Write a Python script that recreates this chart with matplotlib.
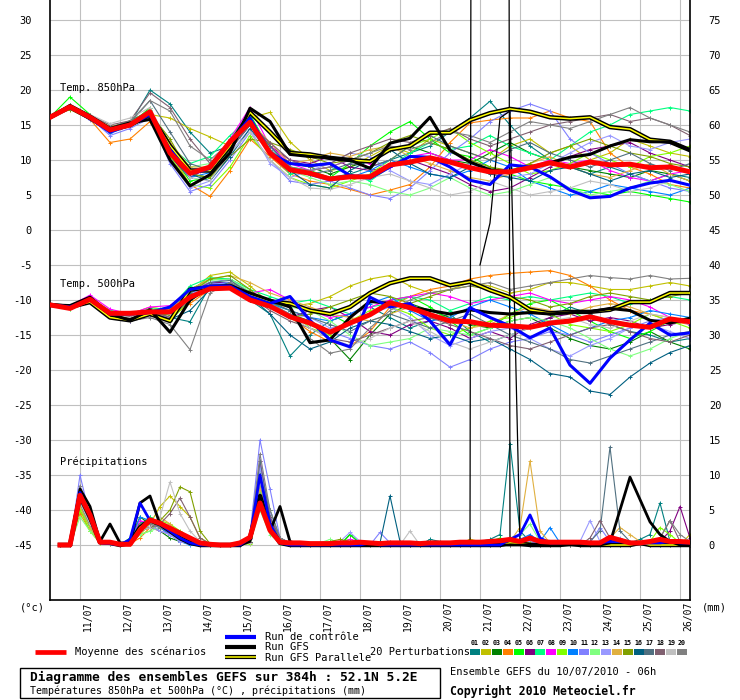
import numpy as np
import matplotlib
matplotlib.use("Agg")
import matplotlib.pyplot as plt
from matplotlib.lines import Line2D
from matplotlib.patches import Rectangle
import matplotlib.transforms as mtrans

# ---------------- DATA ----------------
day_labels = ["11/07", "12/07", "13/07", "14/07", "15/07", "16/07", "17/07", "18/07",
              "19/07", "20/07", "21/07", "22/07", "23/07", "24/07", "25/07", "26/07"]
first_day_hour = 18          # 11/07 00h = run start (10/07 06h) + 18h
temp_step_h = 12
precip_step_h = 6
precip_offset = -45          # precipitation 0 mm sits on the -45 line

pert_colors = ["#008080", "#c0c000", "#008000", "#ff8000", "#00ff00", "#800080", "#00ff80",
               "#ff00ff", "#80ff00", "#0080ff", "#8080ff", "#80ff80", "#9999ff", "#e0b040",
               "#80a000", "#006080", "#507080", "#806070", "#c0c0c0", "#808080"]

# Temp 850 hPa (every 12 h)
mean850 = [16.1, 17.6, 16.1, 14.3, 15.0, 16.9, 11.0, 8.1, 9.0, 12.6, 15.4,
           11.0, 8.6, 8.1, 7.3, 7.6, 7.6, 9.3, 9.7, 10.3, 9.7, 8.9,
           8.3, 8.3, 8.9, 9.6, 9.0, 9.7, 9.3, 9.4, 8.9, 9.0, 8.3]
ctrl850 = [16.1, 17.5, 16.0, 14.0, 15.0, 16.5, 11.5, 8.0, 8.8, 12.5, 16.0,
           11.0, 9.5, 9.2, 9.5, 7.8, 7.4, 9.0, 10.5, 10.4, 9.0, 7.1,
           6.5, 9.3, 9.0, 7.6, 5.7, 4.6, 4.8, 6.0, 6.7, 7.1, 6.4]
gfs850 = [16.1, 17.8, 16.3, 14.5, 15.3, 15.8, 10.0, 6.3, 7.9, 11.0, 17.4,
          15.5, 10.8, 10.5, 10.3, 10.0, 8.8, 12.4, 13.1, 16.1, 11.4, 9.7,
          8.6, 8.3, 9.0, 9.6, 10.4, 10.8, 12.0, 12.9, 12.6, 12.6, 11.4]
par850 = [16.1, 17.6, 16.0, 14.3, 15.0, 16.5, 12.0, 8.5, 8.5, 12.0, 16.8,
          14.0, 11.0, 10.8, 10.3, 10.0, 9.8, 11.5, 12.0, 13.9, 13.9, 15.7,
          16.7, 17.3, 16.9, 16.1, 15.9, 16.1, 14.7, 14.4, 12.9, 12.6, 11.4]

p01_850 = [16.1, 17.6, 16.0, 14.2, 15.2, 20.0, 18.0, 14.0, 11.0, 12.0, 15.5,
           12.0, 9.0, 8.0, 7.5, 8.0, 9.0, 10.0, 11.0, 12.0, 14.0, 16.0,
           18.4, 15.0, 12.0, 10.0, 9.0, 8.0, 9.0, 8.0, 7.0, 8.0, 7.5]
p02_850 = [16.1, 17.4, 16.3, 14.8, 15.3, 16.5, 16.0, 14.5, 13.3, 12.0, 16.0,
           16.8, 12.6, 10.0, 8.5, 9.0, 10.5, 12.0, 11.0, 13.0, 12.0, 11.0,
           10.0, 12.0, 13.0, 11.0, 12.0, 10.0, 11.0, 13.0, 12.0, 11.0, 10.5]
p03_850 = [16.1, 17.8, 16.4, 14.6, 15.6, 17.0, 12.5, 8.0, 7.5, 11.5, 15.0,
           11.0, 9.5, 9.0, 8.0, 9.0, 10.0, 11.5, 12.0, 11.0, 10.0, 9.5,
           11.0, 12.5, 11.0, 10.0, 9.0, 8.5, 8.0, 7.5, 8.5, 8.0, 7.0]
p04_850 = [16.1, 17.3, 15.8, 12.5, 13.0, 15.5, 11.0, 6.5, 4.8, 8.5, 13.0,
           10.5, 8.0, 7.0, 6.5, 5.8, 5.0, 5.7, 6.5, 9.0, 12.5, 15.3,
           15.7, 16.0, 16.0, 17.0, 16.0, 15.5, 11.0, 9.0, 8.0, 6.5, 6.0]
p05_850 = [16.1, 19.0, 16.5, 14.0, 15.0, 17.5, 11.0, 7.0, 7.5, 13.0, 16.5,
           11.5, 9.0, 8.5, 7.5, 9.5, 12.0, 14.0, 15.5, 13.0, 11.0, 10.5,
           9.0, 8.0, 7.0, 6.5, 6.0, 5.5, 5.0, 5.5, 5.0, 4.5, 4.0]
p06_850 = [16.1, 17.5, 16.0, 14.3, 15.2, 16.8, 10.5, 7.5, 9.0, 12.5, 15.5,
           12.0, 10.0, 9.5, 10.5, 9.0, 8.5, 9.0, 10.0, 9.0, 8.0, 6.5,
           5.5, 6.0, 7.5, 9.0, 10.5, 11.5, 12.0, 12.5, 11.0, 10.0, 9.0]
p07_850 = [16.1, 17.6, 16.2, 14.4, 15.4, 17.2, 12.0, 9.5, 10.5, 13.5, 16.0,
           11.0, 8.0, 8.5, 9.0, 8.0, 7.0, 9.0, 11.0, 12.5, 11.5, 12.0,
           13.5, 12.0, 11.0, 10.0, 12.0, 14.0, 15.0, 16.5, 17.0, 17.5, 17.0]
p08_850 = [16.1, 17.7, 16.1, 14.2, 15.1, 16.6, 11.5, 8.5, 8.8, 13.0, 17.5,
           12.0, 9.5, 8.5, 9.0, 10.0, 9.5, 9.0, 10.5, 11.0, 10.0, 10.0,
           11.5, 10.5, 9.0, 10.0, 9.5, 10.0, 8.5, 7.5, 7.0, 8.0, 8.5]
p09_850 = [16.1, 17.5, 16.0, 14.0, 14.8, 16.0, 10.5, 6.5, 6.0, 9.0, 13.5,
           10.0, 7.5, 6.5, 6.0, 7.0, 8.0, 10.0, 12.0, 13.0, 14.5, 12.5,
           11.0, 9.5, 8.0, 8.5, 9.5, 11.0, 10.0, 9.0, 10.5, 11.0, 12.0]
p10_850 = [16.1, 17.4, 15.9, 13.8, 14.9, 16.3, 11.0, 7.5, 8.2, 12.0, 15.0,
           11.5, 9.0, 7.8, 7.0, 7.5, 8.5, 10.0, 9.0, 8.0, 7.5, 8.5,
           10.0, 9.0, 7.0, 6.0, 5.0, 5.5, 6.5, 6.0, 5.5, 5.0, 6.0]
p11_850 = [16.1, 17.6, 16.0, 13.5, 14.5, 16.0, 9.5, 5.5, 6.5, 10.0, 14.0,
           10.0, 7.0, 6.5, 7.0, 6.0, 5.0, 4.5, 6.0, 8.5, 11.0, 13.0,
           15.5, 17.0, 18.0, 17.0, 13.0, 11.0, 9.5, 8.0, 7.0, 6.0, 5.5]
p12_850 = [16.1, 17.5, 16.2, 14.5, 15.5, 16.5, 12.0, 9.0, 9.5, 12.5, 15.5,
           11.0, 8.5, 7.5, 6.5, 7.0, 6.5, 5.5, 5.0, 6.0, 7.5, 6.0,
           5.0, 5.5, 6.5, 7.5, 6.0, 5.0, 5.5, 6.0, 7.0, 6.5, 5.5]
p13_850 = [16.1, 17.3, 15.7, 14.0, 15.0, 16.2, 10.0, 6.0, 7.0, 11.0, 14.5,
           9.5, 7.5, 8.5, 9.5, 11.0, 10.5, 8.5, 7.0, 6.5, 8.0, 9.5,
           8.5, 7.5, 8.0, 9.5, 11.0, 12.5, 13.5, 12.0, 11.5, 12.5, 13.0]
p14_850 = [16.1, 17.6, 16.1, 14.6, 15.4, 16.4, 12.5, 9.0, 9.0, 12.0, 15.5,
           12.5, 9.5, 10.0, 11.0, 10.5, 11.5, 12.0, 10.5, 9.5, 8.5, 7.5,
           7.0, 8.0, 9.5, 10.5, 9.0, 8.0, 7.5, 8.5, 9.5, 8.0, 7.0]
p15_850 = [16.1, 17.2, 15.8, 14.2, 15.2, 16.7, 13.0, 8.0, 7.5, 10.5, 13.0,
           12.5, 11.5, 10.5, 9.5, 10.0, 11.0, 12.5, 13.5, 12.5, 11.5, 10.0,
           9.0, 8.5, 9.5, 11.0, 12.0, 13.0, 12.0, 11.0, 10.5, 9.5, 9.0]
p16_850 = [16.1, 17.5, 16.0, 14.1, 15.0, 16.9, 12.0, 8.0, 7.0, 10.5, 14.5,
           11.0, 8.5, 6.5, 6.0, 8.5, 10.0, 11.5, 9.5, 8.0, 7.5, 9.0,
           8.0, 7.5, 7.0, 8.5, 9.0, 8.0, 7.0, 8.0, 8.5, 7.5, 8.0]
p17_850 = [16.1, 17.8, 16.3, 14.4, 15.3, 18.5, 14.0, 9.5, 8.5, 11.5, 15.0,
           12.0, 9.0, 8.0, 8.5, 9.5, 9.0, 10.0, 12.0, 13.5, 12.0, 11.0,
           10.0, 11.5, 12.5, 11.0, 10.0, 9.0, 10.0, 11.0, 9.5, 8.5, 9.5]
p18_850 = [16.1, 17.4, 16.4, 15.0, 15.6, 19.6, 17.5, 13.0, 9.5, 11.5, 15.0,
           12.5, 10.0, 9.0, 9.5, 11.0, 12.0, 13.0, 12.5, 13.5, 14.5, 13.0,
           12.0, 13.0, 14.0, 15.0, 15.5, 16.0, 16.5, 15.5, 16.0, 15.0, 13.5]
p19_850 = [16.1, 17.7, 16.5, 15.2, 16.0, 17.5, 12.0, 7.5, 7.0, 11.0, 14.0,
           10.0, 7.5, 6.0, 5.8, 6.5, 7.5, 8.0, 7.0, 6.0, 5.0, 5.5,
           7.0, 6.0, 5.0, 5.5, 6.0, 7.0, 6.5, 5.5, 6.0, 7.0, 6.5]
p20_850 = [16.1, 17.5, 16.2, 14.7, 15.5, 18.5, 17.0, 12.0, 10.0, 12.5, 15.5,
           11.5, 9.0, 8.5, 9.0, 10.0, 11.0, 12.0, 11.5, 12.5, 14.0, 13.5,
           12.5, 14.0, 15.5, 15.0, 14.5, 15.5, 16.5, 17.5, 16.0, 15.0, 14.0]

# Temp 500 hPa (every 12 h)
mean500 = [-10.7, -11.2, -9.9, -11.9, -11.9, -11.7, -11.7, -9.6, -8.4, -8.3, -10.0,
           -10.9, -12.4, -13.3, -14.6, -13.3, -12.1, -10.4, -11.1, -12.1, -13.0, -13.1,
           -13.6, -13.7, -13.9, -13.3, -13.0, -12.4, -13.1, -13.6, -13.9, -12.7, -13.1]
ctrl500 = [-10.7, -11.0, -10.0, -12.0, -12.0, -11.8, -11.0, -8.5, -8.0, -8.0, -9.5,
           -10.5, -9.5, -12.9, -15.7, -16.7, -9.6, -11.0, -10.5, -13.0, -16.4, -11.1,
           -12.5, -13.7, -15.4, -14.0, -19.3, -21.9, -18.3, -15.7, -13.3, -15.0, -14.7]
gfs500 = [-10.7, -10.8, -9.6, -12.0, -12.9, -11.4, -14.6, -10.0, -8.0, -8.0, -9.0,
          -10.0, -11.0, -16.1, -15.7, -12.5, -10.2, -10.5, -11.0, -11.5, -12.0, -11.4,
          -11.8, -12.0, -11.8, -12.0, -11.8, -11.7, -11.2, -11.5, -12.9, -13.3, -12.6]
par500 = [-10.7, -11.0, -10.3, -12.5, -12.9, -12.0, -13.0, -8.5, -8.2, -8.0, -9.3,
          -10.2, -10.5, -11.5, -12.0, -11.0, -9.0, -7.6, -6.9, -6.9, -7.9, -7.4,
          -8.6, -9.6, -11.4, -11.9, -11.7, -11.7, -11.4, -10.3, -10.3, -9.0, -9.0]

p01_500 = [-10.7, -11.0, -9.8, -12.0, -12.6, -11.5, -12.5, -13.1, -8.0, -7.5, -10.0,
           -12.0, -18.0, -15.0, -13.0, -12.0, -11.0, -12.5, -14.0, -13.0, -12.0, -14.5,
           -16.0, -15.0, -14.0, -12.5, -11.0, -12.0, -13.5, -14.5, -15.0, -16.0, -15.5]
p02_500 = [-10.7, -11.2, -10.0, -11.5, -12.0, -11.0, -11.5, -9.0, -6.5, -6.0, -8.0,
           -10.5, -11.0, -10.5, -9.5, -8.0, -7.0, -6.5, -8.0, -9.0, -8.5, -7.5,
           -8.0, -9.0, -8.5, -7.5, -7.5, -8.0, -8.5, -8.5, -8.0, -7.5, -8.0]
p03_500 = [-10.7, -11.0, -10.2, -11.8, -12.4, -11.2, -12.8, -9.5, -7.5, -8.0, -10.0,
           -11.0, -12.0, -13.0, -15.5, -18.5, -15.0, -12.0, -10.5, -11.5, -12.5, -13.5,
           -14.0, -13.0, -12.5, -14.0, -15.5, -16.5, -17.0, -16.0, -14.5, -16.0, -17.0]
p04_500 = [-10.7, -11.1, -10.1, -12.0, -12.5, -11.8, -12.5, -10.5, -8.5, -7.5, -9.0,
           -10.0, -12.5, -14.5, -16.0, -16.6, -14.5, -11.0, -9.5, -8.5, -8.0, -7.0,
           -6.5, -6.2, -6.0, -5.8, -6.5, -8.0, -10.0, -11.5, -12.0, -13.0, -13.5]
p05_500 = [-10.7, -11.3, -10.0, -11.9, -12.3, -11.5, -11.0, -8.5, -7.0, -7.0, -9.5,
           -11.0, -10.5, -11.5, -12.0, -13.5, -12.0, -10.0, -9.5, -11.0, -13.0, -15.0,
           -14.0, -12.0, -10.5, -10.0, -11.5, -13.0, -14.5, -15.5, -14.5, -13.0, -12.5]
p06_500 = [-10.7, -11.0, -9.9, -12.1, -13.0, -12.0, -12.0, -9.0, -7.5, -7.5, -9.5,
           -11.0, -12.5, -11.5, -11.0, -12.5, -14.5, -15.0, -13.5, -13.0, -14.0, -15.5,
           -14.5, -15.5, -13.5, -12.5, -12.0, -13.0, -12.5, -13.0, -14.0, -13.5, -13.0]
p07_500 = [-10.7, -10.9, -9.7, -11.5, -12.0, -11.3, -11.2, -8.0, -6.8, -7.0, -8.5,
           -9.5, -10.5, -10.0, -11.0, -12.0, -11.0, -10.5, -9.5, -10.0, -11.5, -10.5,
           -9.5, -10.0, -9.5, -10.0, -9.5, -9.0, -9.5, -10.5, -10.0, -9.5, -10.0]
p08_500 = [-10.7, -10.8, -9.3, -11.3, -12.0, -11.0, -10.8, -8.5, -7.5, -8.0, -9.0,
           -8.5, -10.0, -11.5, -12.5, -12.0, -11.0, -10.0, -9.5, -9.0, -9.5, -10.5,
           -10.0, -9.5, -9.0, -10.0, -10.5, -10.0, -9.5, -10.0, -11.0, -12.5, -13.5]
p09_500 = [-10.7, -11.1, -10.3, -11.8, -12.2, -11.6, -13.0, -10.0, -8.5, -8.0, -9.5,
           -10.5, -11.5, -14.0, -15.0, -13.0, -11.5, -11.0, -12.0, -14.0, -15.0, -14.0,
           -13.0, -12.5, -11.5, -12.0, -13.5, -14.0, -14.5, -13.5, -12.0, -13.0, -14.0]
p10_500 = [-10.7, -11.0, -10.0, -12.0, -12.7, -11.8, -12.0, -9.0, -7.8, -7.5, -9.0,
           -10.5, -11.5, -12.5, -13.0, -12.0, -10.5, -9.5, -11.5, -13.0, -12.5, -11.0,
           -10.0, -11.0, -12.0, -13.5, -15.0, -14.0, -13.0, -12.5, -11.5, -12.0, -12.5]
p11_500 = [-10.7, -11.2, -10.2, -12.2, -13.0, -12.0, -12.5, -9.5, -7.5, -7.0, -9.0,
           -10.5, -12.0, -13.5, -14.5, -15.5, -16.5, -17.0, -16.0, -17.5, -19.6, -18.5,
           -17.0, -16.0, -15.5, -14.5, -15.0, -16.0, -15.0, -14.0, -13.0, -12.5, -13.5]
p12_500 = [-10.7, -11.1, -10.1, -12.1, -12.5, -11.6, -11.5, -8.8, -7.2, -7.0, -8.8,
           -10.0, -11.0, -11.5, -13.0, -15.0, -16.5, -16.0, -15.5, -14.0, -14.5, -15.0,
           -14.0, -13.0, -12.5, -13.0, -14.0, -15.5, -17.0, -18.0, -17.0, -15.5, -14.5]
p13_500 = [-10.7, -11.0, -10.0, -11.7, -12.3, -11.4, -11.8, -9.2, -7.8, -7.5, -9.3,
           -10.8, -12.0, -12.5, -14.0, -13.5, -12.0, -11.0, -12.5, -15.0, -16.5, -15.5,
           -14.5, -14.0, -15.5, -17.0, -18.0, -16.5, -15.5, -14.0, -13.5, -14.5, -15.5]
p14_500 = [-10.7, -11.1, -10.0, -11.9, -12.4, -11.5, -11.4, -8.5, -7.0, -6.5, -7.5,
           -9.0, -10.0, -11.0, -12.0, -12.5, -13.0, -12.0, -11.0, -12.0, -13.0, -14.0,
           -13.5, -12.0, -11.0, -11.5, -12.0, -11.0, -10.5, -11.0, -12.0, -12.5, -13.0]
p15_500 = [-10.7, -11.2, -10.1, -12.0, -12.6, -11.7, -12.2, -9.0, -7.0, -6.5, -8.5,
           -11.0, -12.5, -12.0, -11.0, -10.0, -9.0, -9.5, -10.5, -9.5, -8.5, -8.0,
           -8.5, -9.5, -10.0, -11.0, -10.5, -9.5, -9.0, -9.5, -10.0, -9.5, -9.0]
p16_500 = [-10.7, -11.0, -10.0, -12.1, -12.8, -11.9, -12.8, -11.5, -8.5, -7.5, -9.5,
           -12.0, -15.0, -17.0, -16.0, -14.0, -13.0, -13.5, -14.5, -15.5, -15.0, -16.0,
           -15.5, -17.0, -18.5, -20.5, -21.0, -23.0, -23.5, -21.0, -19.0, -17.5, -16.5]
p17_500 = [-10.7, -11.1, -10.2, -11.8, -12.5, -11.6, -11.9, -9.0, -7.5, -7.2, -9.0,
           -10.2, -11.5, -12.5, -13.5, -14.5, -13.0, -12.0, -13.0, -14.0, -13.0, -12.0,
           -13.5, -15.0, -16.0, -17.0, -18.5, -19.0, -18.0, -17.0, -16.0, -15.0, -14.5]
p18_500 = [-10.7, -11.0, -10.0, -11.9, -12.4, -11.5, -12.5, -10.0, -8.0, -7.8, -9.5,
           -11.5, -13.0, -14.0, -15.5, -16.0, -15.0, -14.0, -13.0, -12.5, -13.5, -14.5,
           -15.5, -16.5, -17.0, -16.0, -15.0, -14.0, -13.5, -14.5, -15.5, -16.0, -15.0]
p19_500 = [-10.7, -11.1, -10.1, -12.0, -12.5, -11.6, -12.0, -9.5, -7.8, -7.8, -9.5,
           -11.0, -12.5, -14.0, -15.5, -16.5, -15.5, -14.0, -13.0, -14.5, -16.0, -17.0,
           -16.0, -15.0, -14.0, -13.0, -12.5, -13.5, -14.0, -13.0, -12.0, -12.5, -13.0]
p20_500 = [-10.7, -11.2, -10.3, -12.3, -13.0, -12.5, -13.5, -17.1, -9.0, -7.5, -9.0,
           -10.5, -12.0, -15.5, -17.6, -17.0, -14.0, -11.5, -10.0, -9.0, -8.5, -8.0,
           -7.5, -8.5, -8.0, -7.5, -7.0, -6.5, -6.8, -7.0, -6.5, -7.0, -6.9]

# Precipitation (mm per 6 h, from +6 h)
mean_pr = [0, 0, 7.1, 4.3, 0.4, 0.4, 0.1, 0.1,
           2.1, 3.6, 3.1, 2.4, 1.7, 1.0, 0.3, 0.1,
           0, 0, 0.3, 1.1, 6.0, 2.1, 0.4, 0.3,
           0.3, 0.2, 0.2, 0.2, 0.3, 0.3, 0.4, 0.3,
           0.2, 0.3, 0.3, 0.3, 0.2, 0.3, 0.3, 0.3,
           0.4, 0.4, 0.4, 0.5, 0.6, 0.8, 0.5, 1.0,
           0.5, 0.4, 0.4, 0.4, 0.4, 0.3, 0.3, 1.1,
           0.7, 0.3, 0.3, 0.5, 0.8, 0.5, 0.5, 0.4]
ctrl_pr = [0, 0, 7.5, 4, 0.3, 0.2, 0, 0.8,
           6, 3.5, 3, 2, 1, 0.3, 0, 0,
           0, 0, 0, 1, 10, 3, 0.3, 0,
           0, 0, 0, 0, 0, 0, 0, 0.3,
           0, 0, 0, 0, 0, 0, 0, 0,
           0, 0, 0, 0, 0, 0.8, 1.5, 4.3,
           1.0, 0.3, 0.3, 0.5, 0.5, 0.3, 0.3, 0.5,
           0.5, 0.3, 0.2, 0.3, 0.3, 0.5, 0.3, 0.3]
gfs_pr = [0, 0, 8, 5.5, 0.5, 3, 0.3, 0.3,
          6, 7, 3, 2, 1, 0.3, 0, 0,
          0, 0, 0, 0.5, 7, 2, 5.5, 0.5,
          0, 0, 0, 0, 0, 0, 0, 0,
          0, 0, 0, 0, 0, 0, 0, 0,
          0, 0, 0, 0, 0, 0, 0, 0,
          0, 0, 0, 0, 0, 0, 0, 0.3,
          5, 9.7, 6.5, 3.3, 1.5, 0.5, 0, 0]
par_pr = [0, 0, 7, 4, 0.4, 0.3, 0, 0.3,
          2.5, 3.5, 3, 2, 1, 0.3, 0, 0,
          0, 0, 0, 1, 7, 2.5, 0.3, 0,
          0, 0, 0, 0, 0, 0, 0, 0,
          0, 0, 0, 0, 0, 0, 0, 0,
          0, 0, 0, 0, 0, 0.3, 0.2, 0,
          0, 0, 0, 0.2, 0, 0, 0, 0,
          0, 0, 0.3, 0, 0, 0, 0, 0]
# operational GFS extreme precipitation burst (hours, mm)
spike_hours = [252, 258, 264, 270, 276]
spike_pr = [0, 900, 900, 900, 0]
spike2_hours = [258, 264, 270, 276, 282]
spike2_pr = [40, 46, 61, 62, 0]

p01_pr = [0, 0, 6.5, 3.5, 0.5, 0.3, 0, 0.5, 3.0, 4.0, 3.0, 2.0, 1.0, 0.5, 0.2, 0,
          0, 0, 0, 0.5, 11.0, 5.0, 1.0, 0.3, 0, 0, 0, 0, 0, 0, 0, 0,
          0.3, 0.5, 0, 0, 0, 0.8, 0.5, 0.3, 0.2, 0.3, 0.5, 0.8, 1.5, 14.5, 2.0, 0.5,
          0.3, 0.5, 0.3, 0.5, 0.2, 0.3, 0.5, 0.3, 0.2, 0.3, 0.8, 1.5, 6.0, 0.5, 0.3, 0.2]
p02_pr = [0, 0, 5, 2.5, 0.3, 0.2, 0, 0.3, 1.5, 3, 5.5, 7, 5.5, 4, 1, 0.2,
          0, 0, 0, 0.3, 8, 3, 0.5, 0.2, 0, 0, 0, 0.2, 0.5, 0.8, 0.3, 0,
          0, 0, 0, 0, 0, 0.3, 0, 0, 0.2, 0.8, 0.5, 0.2, 0, 0.3, 0.5, 0.3,
          0.2, 0, 0, 0.3, 0.2, 0, 0, 0.3, 0.5, 0.3, 0, 0.2, 0.3, 0.2, 0, 1.5]
p03_pr = [0, 0, 7, 4, 0.5, 0.3, 0, 0.8, 4, 3, 2, 1, 0.5, 0.2, 0, 0,
          0, 0, 0, 1, 9, 2.5, 0.5, 0.2, 0, 0, 0, 0, 0, 1.5, 0.2, 0,
          0, 0, 0, 0, 0, 0, 0, 0.3, 0, 0, 0, 0.3, 0.5, 0.8, 0.3, 0.2,
          0, 0.3, 0.5, 0.2, 0, 0.3, 0.2, 0, 0, 0.3, 0.2, 0, 0.3, 0.2, 0, 0]
p04_pr = [0, 0, 4.5, 2, 0.3, 0.2, 0, 0.2, 1, 2.5, 2, 1.5, 1, 0.5, 0, 0,
          0, 0, 0, 0.5, 7, 3, 0.5, 0, 0, 0, 0, 0, 0, 0, 0, 0,
          0, 0, 0, 0, 0, 0, 0, 0, 0, 0, 0, 0, 0.5, 0.3, 0.2, 0.5,
          0.3, 0.2, 0, 0.3, 0, 0, 0.2, 0.3, 0.5, 0.2, 0, 0.3, 0.5, 0.2, 0, 0]
p05_pr = [0, 0, 7.5, 4, 0.5, 0.3, 0, 1, 3, 3.5, 2.5, 1.5, 0.5, 0.2, 0, 0,
          0, 0, 0, 1, 10, 4, 0.8, 0.2, 0, 0, 0, 0, 0, 1.5, 0.3, 0,
          0, 0, 0, 0, 0, 0, 0, 0, 0, 0, 0, 0.5, 1, 0.5, 0.3, 0.2,
          0, 0, 0.2, 0.3, 0, 0, 0.2, 0, 0, 0, 0.5, 0.3, 0.2, 0.5, 0.3, 0]
p06_pr = [0, 0, 6, 3, 0.5, 0.3, 0, 0.5, 2, 2.5, 3, 2, 1, 0.3, 0, 0,
          0, 0, 0, 0.5, 9, 3.5, 0.5, 0, 0, 0, 0, 0, 0, 0, 0, 0,
          0, 0, 0, 0, 0, 0, 0, 0, 0, 0, 0, 0, 0.3, 0.2, 0.5, 0.3,
          0.2, 0, 0, 0.3, 0.5, 0.3, 0.2, 0, 0, 0.3, 0.2, 0, 0.5, 2, 5.5, 1]
p07_pr = [0, 0, 5.5, 2.5, 0.3, 0.2, 0, 0.3, 2.5, 4, 3, 2, 0.8, 0.3, 0, 0,
          0, 0, 0, 0.3, 7.5, 2.5, 0.3, 0, 0, 0, 0, 0, 0.3, 0.5, 0.2, 0,
          0, 0, 0, 0, 0, 0, 0, 0, 0, 0, 0, 0, 0.3, 0.5, 0.2, 0,
          0, 0.2, 0, 0, 0, 0, 0.3, 0.5, 0.3, 0, 0, 0.2, 0, 0, 0.2, 0]
p08_pr = [0, 0, 6, 3, 0.4, 0.2, 0, 0.5, 3.5, 3, 2.5, 1.5, 0.5, 0.2, 0, 0,
          0, 0, 0, 0.8, 12, 4, 0.5, 0, 0, 0, 0, 0, 0.3, 0.8, 0.5, 0,
          0, 0, 0, 0, 0, 0, 0, 0, 0, 0, 0, 0, 0, 0.3, 0.5, 0.3,
          0.2, 0, 0, 0, 0.2, 0, 0, 0, 0, 0, 0, 0, 0.3, 0.2, 0, 0]
p09_pr = [0, 0, 5, 2, 0.3, 0.2, 0, 0.3, 1.5, 2, 3.5, 3, 2, 1, 0.3, 0,
          0, 0, 0, 0.2, 6, 2, 0.3, 0, 0, 0, 0, 0.2, 0.3, 0.5, 0.2, 0,
          0, 0, 0, 0, 0, 0, 0, 0, 0, 0, 0, 0.2, 0.5, 0.8, 0.3, 0.2,
          0, 0, 0, 0.2, 0, 0, 0, 0, 0, 0, 0, 0.5, 2.5, 1.5, 0.3, 0]
p10_pr = [0, 0, 6, 3, 0.5, 0.3, 0, 0.5, 4, 3.5, 2.5, 1.5, 0.5, 0, 0, 0,
          0, 0, 0, 0.5, 10, 3, 0.5, 0, 0, 0, 0, 0, 0, 0.5, 0.2, 0,
          0, 0, 0, 0, 0, 0, 0, 0, 0, 0, 0, 0, 0.2, 0.5, 0.8, 1.5,
          0.5, 2.5, 0.3, 0.2, 0, 0.3, 0.5, 0.3, 0.5, 0.3, 0.2, 0.3, 0.2, 0.3, 0, 0]
p11_pr = [0, 0, 10, 4, 0.5, 0.3, 0, 0.5, 3, 2.5, 2, 1.5, 0.5, 0.2, 0, 0,
          0, 0, 0, 1.5, 15, 8, 1, 0.3, 0, 0, 0, 0, 0, 0, 0, 0,
          1.8, 0.3, 0, 0, 0, 0.3, 0.2, 0, 0, 0, 0, 0, 0, 0, 0, 0.3,
          0.2, 0, 0.3, 0.5, 0.2, 0.3, 2.5, 0.5, 0.3, 0, 0, 0, 0, 0, 0, 0]
p12_pr = [0, 0, 4, 2, 0.3, 0.2, 0, 0.3, 1.5, 2, 2.5, 2, 1.5, 1, 0.3, 0,
          0, 0, 0, 0.3, 5, 1.5, 0.3, 0, 0, 0, 0.3, 0.8, 0.3, 0, 0, 0,
          0, 0, 0, 0, 0, 0, 0, 0, 0, 0.3, 0.5, 0.3, 0.5, 1.0, 1.5, 3.0,
          0.5, 0, 0, 0, 0, 0, 0, 0, 0, 0, 0, 0, 0, 0, 0, 0]
p13_pr = [0, 0, 8, 3.5, 0.5, 0.2, 0, 0.3, 2.5, 3, 2, 1.5, 0.5, 0.2, 0, 0,
          0, 0, 0, 0.8, 11, 4.5, 0.5, 0.2, 0, 0, 0, 0, 0.5, 1.8, 0.5, 0,
          0, 0, 0, 0, 0, 0, 0, 0, 0, 0, 0, 0, 0, 0, 0.3, 0.5,
          0.3, 0, 0, 0.2, 0.5, 3.5, 0.5, 0.3, 1, 0.3, 0, 0.3, 0, 0, 0, 0]
p14_pr = [0, 0, 5.5, 2.5, 0.3, 0.2, 0, 0.3, 2, 3, 4, 3, 1.5, 0.5, 0, 0,
          0, 0, 0, 0.3, 8, 3, 0.5, 0, 0, 0, 0, 0, 0, 0, 0, 0,
          0, 0, 0, 0, 0, 0, 0, 0, 0, 0, 0, 0, 0.3, 0.5, 2.5, 12.0,
          2, 0.3, 0, 0, 0, 0, 0.5, 1.0, 2.5, 1.5, 0.5, 0, 0, 0, 0, 0]
p15_pr = [0, 0, 6, 3, 0.4, 0.2, 0, 0.4, 2, 2.5, 3.5, 5, 8.3, 7.6, 2, 0.2,
          0, 0, 0, 0.5, 9, 3, 0.5, 0.2, 0.3, 0, 0, 0.5, 0.8, 0.5, 0, 0,
          0, 0, 0, 0, 0, 0, 0, 0, 0, 0, 0, 0, 0.3, 0.8, 0.5, 0.3,
          0, 0, 0, 0, 0, 0, 0, 0, 0, 0, 0, 0, 0.3, 0.5, 0.3, 0]
p16_pr = [0, 0, 6, 3, 0.5, 0.3, 0, 0.5, 3, 3.5, 3, 2, 1, 0.5, 0, 0,
          0, 0, 0, 0.5, 10, 3, 0.5, 0.2, 0, 0, 0, 0, 0, 0, 0, 0,
          0.3, 7.0, 0.5, 0, 0, 0, 0, 0, 0.3, 0.5, 0.3, 0, 0, 0.5, 0.3, 0,
          0, 0, 0, 0, 0, 0, 0, 0, 0, 0, 0, 0, 0, 0, 0, 0]
p17_pr = [0, 0, 6.5, 3.5, 0.5, 0.3, 0, 0.5, 3, 3, 2.5, 2, 1, 0.3, 0, 0,
          0, 0, 0, 0.5, 12, 4, 0.5, 0.2, 0, 0, 0, 0, 0, 0, 0, 0,
          0, 0, 0, 0, 0, 0, 0, 0, 0, 0, 0, 0, 0, 0.3, 0.2, 0,
          0, 0, 0, 0, 0, 0.5, 2.0, 14.0, 2.0, 0.5, 0, 0, 0, 0, 0, 0]
p18_pr = [0, 0, 7, 4, 0.5, 0.3, 0, 0.5, 2, 2.5, 3, 4.5, 6.7, 4, 1, 0.2,
          0, 0, 0, 0.5, 10, 4, 1, 0.3, 0, 0, 0, 0, 0, 0, 0, 0,
          0, 0, 0, 0, 0, 0, 0, 0, 0, 0, 0, 0, 0, 0, 0, 0,
          0, 0, 0, 0, 0, 1.0, 3.5, 1.0, 0.3, 0, 0, 0, 1, 3.5, 0.5, 0]
p19_pr = [0, 0, 6, 3, 0.4, 0.2, 0, 0.3, 2, 2.5, 4, 9.0, 4.5, 2, 0.5, 0,
          0, 0, 0, 0.3, 9, 3, 0.5, 0.2, 0, 0, 0, 0, 0, 0, 0, 0,
          0, 0, 0, 2.0, 0, 0, 0, 0, 0, 0, 0, 0, 0, 0, 0, 0,
          0, 0, 0, 0, 0, 0, 0, 0, 0, 0, 0, 0, 0, 0, 0, 0]
p20_pr = [0, 0, 8.5, 4, 0.5, 0.3, 0, 0.5, 3, 3, 2.5, 2, 1, 0.5, 0, 0,
          0, 0, 0, 1, 13, 5, 1, 0.3, 0, 0, 0, 0, 0, 0, 0, 0.3,
          0, 0, 0, 0, 0, 0, 0, 0, 0, 0, 0, 0, 0, 0, 0, 0,
          0, 0, 0, 0, 0, 0, 0, 0, 0.3, 0, 0, 0.5, 1, 3.5, 1.5, 0.5]

pert850 = [p01_850, p02_850, p03_850, p04_850, p05_850, p06_850, p07_850, p08_850, p09_850, p10_850,
           p11_850, p12_850, p13_850, p14_850, p15_850, p16_850, p17_850, p18_850, p19_850, p20_850]
pert500 = [p01_500, p02_500, p03_500, p04_500, p05_500, p06_500, p07_500, p08_500, p09_500, p10_500,
           p11_500, p12_500, p13_500, p14_500, p15_500, p16_500, p17_500, p18_500, p19_500, p20_500]
pert_pr = [p01_pr, p02_pr, p03_pr, p04_pr, p05_pr, p06_pr, p07_pr, p08_pr, p09_pr, p10_pr,
           p11_pr, p12_pr, p13_pr, p14_pr, p15_pr, p16_pr, p17_pr, p18_pr, p19_pr, p20_pr]

# ---------------- FIGURE ----------------
W, H = 740, 700
MONO = "DejaVu Sans Mono"
plt.rcParams["font.family"] = [MONO, "DejaVu Sans"]

fig = plt.figure(figsize=(W / 100, H / 100), dpi=100)
ax = fig.add_axes([50 / W, 100 / H, 640 / W, 600 / H])
ax.set_xlim(0, 384)
ax.set_ylim(-45 - 55 / 7, 30 + 20 / 7)


def th(vals):
    return np.arange(len(vals)) * temp_step_h


def ph(vals):
    return (np.arange(len(vals)) + 1) * precip_step_h


def pr(vals):
    return np.asarray(vals, dtype=float) + precip_offset


# perturbations
for i, c in enumerate(pert_colors):
    kw = dict(color=c, lw=0.8, marker="+", ms=3, mew=0.7, zorder=2)
    ax.plot(th(pert850[i]), pert850[i], **kw)
    ax.plot(th(pert500[i]), pert500[i], **kw)
    ax.plot(ph(pert_pr[i]), pr(pert_pr[i]), **kw)

# thin black GFS bursts
ax.plot(spike_hours, pr(spike_pr), color="black", lw=0.9, zorder=3)
ax.plot(spike2_hours, pr(spike2_pr), color="black", lw=0.9, zorder=3)

# GFS parallel (black with yellow core)
for series, hrs in ((par850, th(par850)), (par500, th(par500))):
    ax.plot(hrs, series, color="black", lw=3.2, zorder=4, solid_joinstyle="round")
    ax.plot(hrs, series, color="#ffff00", lw=1.1, zorder=4.1)
ax.plot(ph(par_pr), pr(par_pr), color="black", lw=3.2, zorder=4)
ax.plot(ph(par_pr), pr(par_pr), color="#ffff00", lw=1.1, zorder=4.1)

# GFS run
ax.plot(th(gfs850), gfs850, color="black", lw=2.2, zorder=5)
ax.plot(th(gfs500), gfs500, color="black", lw=2.2, zorder=5)
ax.plot(ph(gfs_pr), pr(gfs_pr), color="black", lw=2.0, zorder=5)

# control run
ax.plot(th(ctrl850), ctrl850, color="#0000ff", lw=2.2, zorder=6)
ax.plot(th(ctrl500), ctrl500, color="#0000ff", lw=2.2, zorder=6)
ax.plot(ph(ctrl_pr), pr(ctrl_pr), color="#0000ff", lw=2.0, zorder=6)

# ensemble mean
ax.plot(th(mean850), mean850, color="#ff0000", lw=3.6, zorder=7)
ax.plot(th(mean500), mean500, color="#ff0000", lw=3.6, zorder=7)
ax.plot(ph(mean_pr), pr(mean_pr), color="#ff0000", lw=3.6, zorder=7)

# axes, grid
yt = np.arange(-45, 31, 5)
day_ticks = first_day_hour + 24 * np.arange(len(day_labels))
ax.set_yticks(yt)
ax.set_yticklabels([str(v) for v in yt], fontsize=7.5, family=MONO)
ax.set_xticks(day_ticks)
ax.set_xticklabels([])
ax.tick_params(length=0, pad=13)
ax.grid(True, color="#c0c0c0", lw=0.8, zorder=0)
ax.set_axisbelow(True)
ax.spines["top"].set_visible(False)
for s in ("left", "right", "bottom"):
    ax.spines[s].set_color("black")
    ax.spines[s].set_linewidth(1.2)

ax2 = ax.twinx()
ax2.set_ylim(ax.get_ylim())
ax2.set_yticks(yt)
ax2.set_yticklabels([str(v - precip_offset) for v in yt], fontsize=7.5, family=MONO)
ax2.tick_params(length=0, pad=13.5)
for s in ax2.spines.values():
    s.set_visible(False)

# day labels (vertical)
lab_tr = mtrans.blended_transform_factory(ax.transData, ax.transAxes) + \
    mtrans.ScaledTranslation(8 / 100, -2 / 100, fig.dpi_scale_trans)
for t, lab in zip(day_ticks, day_labels):
    ax.text(t, 0, lab, transform=lab_tr, rotation=90, ha="center", va="top",
            fontsize=7.0, family=MONO)

# in-plot section titles
ax.text(6, 20.3, "Temp. 850hPa", fontsize=7.5, family=MONO, va="center", zorder=8)
ax.text(6, -7.7, "Temp. 500hPa", fontsize=7.5, family=MONO, va="center", zorder=8)
ax.text(6, -33.1, "Précipitations", fontsize=7.5, family=MONO, va="center", zorder=8)


# ---------------- LEGEND / FOOTER ----------------
def fx(px):
    return px / W


def fy(py):
    return 1 - py / H


def ftext(x, y, s, **kw):
    kw.setdefault("fontsize", 7.5)
    kw.setdefault("family", MONO)
    kw.setdefault("va", "center")
    fig.text(fx(x), fy(y), s, **kw)


def fline(x0, x1, y, **kw):
    fig.add_artist(Line2D([fx(x0), fx(x1)], [fy(y), fy(y)], transform=fig.transFigure,
                          solid_capstyle="butt", **kw))


ftext(20, 607, "(°c)")
ftext(702, 607, "(mm)")

fline(35, 66, 652, color="#ff0000", lw=3.4)
ftext(75, 652, "Moyenne des scénarios")

fline(225, 256, 637, color="#0000ff", lw=3.0)
ftext(265, 637, "Run de contrôle")
fline(225, 256, 647, color="black", lw=3.0)
ftext(265, 647.5, "Run GFS")
fline(225, 256, 657, color="black", lw=3.0)
fline(225, 256, 657, color="#ffff00", lw=1.1)
ftext(265, 658, "Run GFS Parallele")

ftext(370, 652, "20 Perturbations")
for i, c in enumerate(pert_colors):
    x0 = 470 + 10.9 * i
    fig.add_artist(Rectangle((fx(x0), fy(655)), 10 / W, 6 / H, transform=fig.transFigure,
                             facecolor=c, edgecolor="none"))
    ftext(x0 + 5, 643, "%02d" % (i + 1), fontsize=4.8, ha="center", fontweight="bold")

fig.add_artist(Rectangle((fx(20), fy(698)), 420 / W, 30 / H, transform=fig.transFigure,
                         fill=False, edgecolor="black", lw=1.0))
ftext(30, 677, "Diagramme des ensembles GEFS sur 384h : 52.1N 5.2E", fontsize=9.3,
      fontweight="bold")
ftext(30, 691, "Températures 850hPa et 500hPa (°C) , précipitations (mm)", fontsize=7.2)
ftext(450, 672, "Ensemble GEFS du 10/07/2010 - 06h", fontsize=7.5)
ftext(450, 691, "Copyright 2010 Meteociel.fr", fontsize=8.3, fontweight="bold")

fig.savefig("out.png", dpi=100)
